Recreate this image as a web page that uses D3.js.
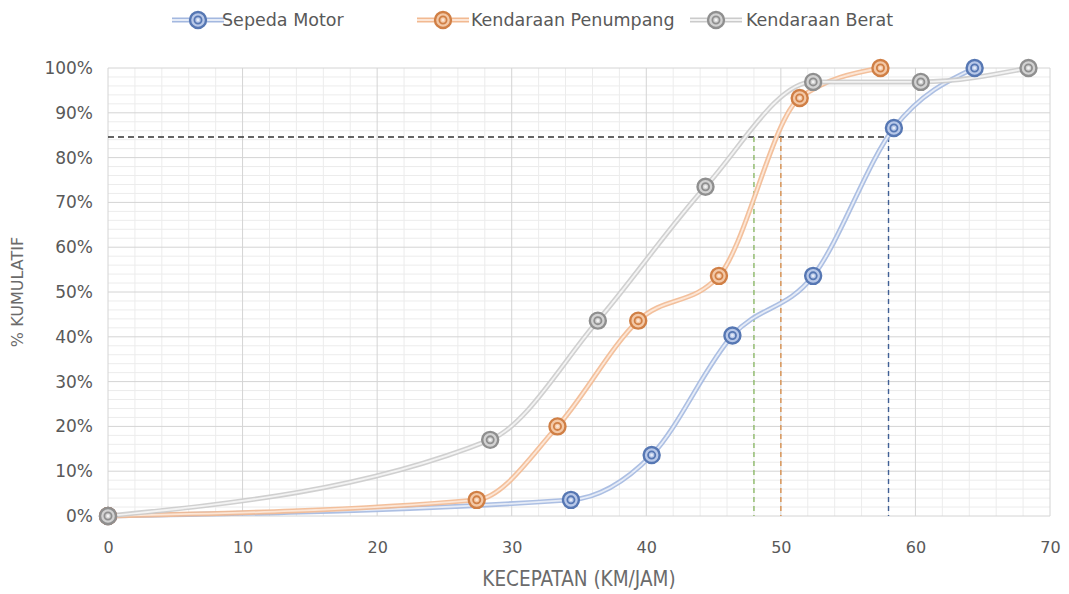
<!DOCTYPE html>
<html>
<head>
<meta charset="utf-8">
<script src="https://cdn.jsdelivr.net/npm/d3@7"></script>
<style>
  html, body { margin: 0; padding: 0; background: #ffffff; }
  svg { display: block; }
</style>
</head>
<body>
<svg id="chart" width="1069" height="594"></svg>
<script>
// ---- data ----
const seriesNames = ["Sepeda Motor", "Kendaraan Penumpang", "Kendaraan Berat"];
const motorSpeed = [0, 34.4, 40.4, 46.4, 52.4, 58.4, 64.4];
const motorCum   = [0, 3.6, 13.6, 40.3, 53.6, 86.6, 100];
const carSpeed   = [0, 27.4, 33.4, 39.4, 45.4, 51.4, 57.4];
const carCum     = [0, 3.6, 20.0, 43.6, 53.6, 93.3, 100];
const heavySpeed = [0, 28.4, 36.4, 44.4, 52.4, 60.4, 68.4];
const heavyCum   = [0, 17.0, 43.6, 73.5, 96.9, 96.9, 100];
const percentileLevel = 84.6;           // 85th percentile guide
const percentileSpeeds = [58, 50, 48];  // motor, car, heavy
const xTicks = [0, 10, 20, 30, 40, 50, 60, 70];
const yTicks = [0, 10, 20, 30, 40, 50, 60, 70, 80, 90, 100];
const xTitle = "KECEPATAN (KM/JAM)";
const yTitle = "% KUMULATIF";

// ---- styles ----
const styles = [
  { outer: "#a3b8e0", inner: "#e6ecf7", ring: "#5677b3", fill: "#b8c8e8", guide: "#3f5f95" },
  { outer: "#f2b991", inner: "#fce6d6", ring: "#d07f45", fill: "#f3c8a6", guide: "#d9904f" },
  { outer: "#cbcbcb", inner: "#f3f3f3", ring: "#8f8f8f", fill: "#d2d2d2", guide: "#8dba68" }
];
const series = [
  { name: seriesNames[0], xs: motorSpeed, ys: motorCum, style: styles[0], guideX: percentileSpeeds[0] },
  { name: seriesNames[1], xs: carSpeed, ys: carCum, style: styles[1], guideX: percentileSpeeds[1] },
  { name: seriesNames[2], xs: heavySpeed, ys: heavyCum, style: styles[2], guideX: percentileSpeeds[2] }
];

const svg = d3.select("#chart");
const W = 1069, H = 594;
const m = { left: 108, right: W - 1050, top: 68, bottom: H - 516 };
const x = d3.scaleLinear().domain([0, 70]).range([m.left, W - m.right]);
const y = d3.scaleLinear().domain([0, 100]).range([H - m.bottom, m.top]);

const font = "'DejaVu Sans', sans-serif";
const textColor = "#595959";

// minor grid
const g = svg.append("g");
g.selectAll("line.minx").data(d3.range(0, 70.01, 2).filter(v => v % 10 !== 0))
  .join("line").attr("x1", d => x(d)).attr("x2", d => x(d))
  .attr("y1", y(0)).attr("y2", y(100)).attr("stroke", "#ececec").attr("stroke-width", 1);
g.selectAll("line.miny").data(d3.range(0, 100.01, 2).filter(v => v % 10 !== 0))
  .join("line").attr("y1", d => y(d)).attr("y2", d => y(d))
  .attr("x1", x(0)).attr("x2", x(70)).attr("stroke", "#ececec").attr("stroke-width", 1);
// major grid
g.selectAll("line.majx").data(xTicks)
  .join("line").attr("x1", d => x(d)).attr("x2", d => x(d))
  .attr("y1", y(0)).attr("y2", y(100)).attr("stroke", "#d4d4d4").attr("stroke-width", 1);
g.selectAll("line.majy").data(yTicks)
  .join("line").attr("y1", d => y(d)).attr("y2", d => y(d))
  .attr("x1", x(0)).attr("x2", x(70)).attr("stroke", "#d4d4d4").attr("stroke-width", 1);

// axes (labels only)
const xAxis = d3.axisBottom(x).tickValues(xTicks).tickSize(0).tickPadding(0).tickFormat(d3.format("d"));
const xa = svg.append("g").attr("transform", `translate(0,${y(0) + 26})`).call(xAxis);
xa.select(".domain").remove();
xa.selectAll("text").attr("font-family", font).attr("font-size", 16).attr("fill", textColor);

const yAxis = d3.axisLeft(y).tickValues(yTicks).tickSize(0).tickPadding(0).tickFormat(d => d + "%");
const ya = svg.append("g").attr("transform", `translate(${x(0) - 15},0)`).call(yAxis);
ya.select(".domain").remove();
ya.selectAll("text").attr("font-family", font).attr("font-size", 17).attr("fill", textColor);

// axis titles
svg.append("text").attr("x", (x(0) + x(70)) / 2).attr("y", 586)
  .attr("text-anchor", "middle").attr("font-family", "'Liberation Sans Narrow', 'DejaVu Sans Condensed', sans-serif")
  .attr("font-size", 20.5).attr("fill", "#6b6b6b").text(xTitle);
svg.append("text").attr("transform", `translate(23,${(y(0) + y(100)) / 2}) rotate(-90)`)
  .attr("text-anchor", "middle").attr("font-family", font)
  .attr("font-size", 16).attr("fill", "#6b6b6b").text(yTitle);

// guide lines
svg.append("line").attr("x1", x(0)).attr("x2", x(percentileSpeeds[0]))
  .attr("y1", y(percentileLevel)).attr("y2", y(percentileLevel))
  .attr("stroke", "#333333").attr("stroke-width", 1.6).attr("stroke-dasharray", "6,4");
series.forEach(s => {
  svg.append("line").attr("x1", x(s.guideX)).attr("x2", x(s.guideX))
    .attr("y1", y(percentileLevel)).attr("y2", y(0))
    .attr("stroke", s.style.guide).attr("stroke-width", 1.4).attr("stroke-dasharray", "5,4");
});

// lines
const line = d3.line().x(d => x(d[0])).y(d => y(d[1])).curve(d3.curveMonotoneX);
series.forEach(s => {
  const pts = s.xs.map((v, i) => [v, s.ys[i]]);
  svg.append("path").attr("d", line(pts)).attr("fill", "none")
    .attr("stroke", s.style.outer).attr("stroke-width", 5).attr("stroke-opacity", 0.9);
  svg.append("path").attr("d", line(pts)).attr("fill", "none")
    .attr("stroke", s.style.inner).attr("stroke-width", 1.8);
});

// markers
function marker(sel, cx, cy, st) {
  sel.append("circle").attr("cx", cx).attr("cy", cy).attr("r", 8)
    .attr("fill", st.fill).attr("stroke", st.ring).attr("stroke-width", 2.4);
  sel.append("circle").attr("cx", cx).attr("cy", cy).attr("r", 3.6)
    .attr("fill", "none").attr("stroke", st.ring).attr("stroke-width", 1.8);
  sel.append("circle").attr("cx", cx).attr("cy", cy).attr("r", 1.4).attr("fill", st.inner);
}
series.forEach(s => {
  const mg = svg.append("g");
  s.xs.forEach((v, i) => marker(mg, x(v), y(s.ys[i]), s.style));
});

// legend
const legendItems = [
  { lx: 172, tx: 222 },
  { lx: 417, tx: 471 },
  { lx: 690, tx: 746 }
];
series.forEach((s, i) => {
  const L = legendItems[i];
  const lg = svg.append("g");
  lg.append("line").attr("x1", L.lx).attr("x2", L.lx + 52).attr("y1", 20).attr("y2", 20)
    .attr("stroke", s.style.outer).attr("stroke-width", 5);
  lg.append("line").attr("x1", L.lx).attr("x2", L.lx + 52).attr("y1", 20).attr("y2", 20)
    .attr("stroke", s.style.inner).attr("stroke-width", 1.8);
  marker(lg, L.lx + 26, 20, s.style);
  lg.append("text").attr("x", L.tx).attr("y", 26).attr("font-family", font)
    .attr("font-size", 17.5).attr("fill", textColor).text(s.name);
});
</script>
</body>
</html>
